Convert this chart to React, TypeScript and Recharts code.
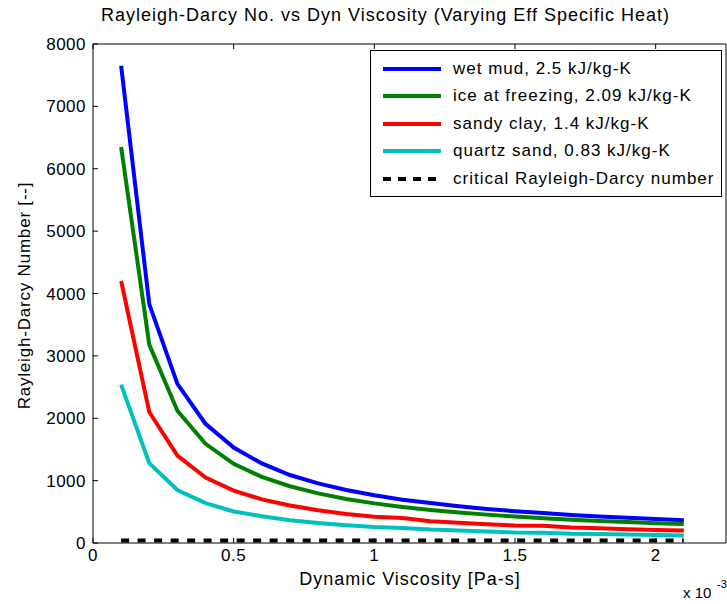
import React from "react";
import { LineChart, Line, XAxis, YAxis } from "recharts";

// dynamic viscosity, x 10^-3 Pa-s
const viscosity = [0.1, 0.2, 0.3, 0.4, 0.5, 0.6, 0.7, 0.8, 0.9, 1.0, 1.1, 1.2, 1.3, 1.4, 1.5, 1.6, 1.7, 1.8, 1.9, 2.0, 2.1];
const wetMud = [7650, 3830, 2550, 1910, 1530, 1275, 1090, 955, 850, 765, 695, 640, 590, 545, 510, 480, 450, 425, 405, 385, 365];
const iceFreezing = [6350, 3180, 2120, 1590, 1270, 1060, 910, 795, 705, 635, 578, 530, 490, 455, 425, 398, 374, 353, 335, 318, 303];
const sandyClay = [4200, 2100, 1400, 1050, 840, 700, 600, 525, 465, 420, 400, 350, 325, 300, 280, 275, 250, 235, 220, 210, 200];
const quartzSand = [2540, 1280, 850, 640, 505, 430, 365, 320, 285, 255, 240, 215, 200, 185, 170, 165, 150, 145, 135, 130, 120];
const criticalRD = [40, 40, 40, 40, 40, 40, 40, 40, 40, 40, 40, 40, 40, 40, 40, 40, 40, 40, 40, 40, 40];

const xTicks = [0, 0.5, 1, 1.5, 2];
const yTicks = [0, 1000, 2000, 3000, 4000, 5000, 6000, 7000, 8000];

const series = [
  { key: "wet", name: "wet mud, 2.5 kJ/kg-K", color: "#0000ff", values: wetMud, dash: undefined },
  { key: "ice", name: "ice at freezing, 2.09 kJ/kg-K", color: "#008000", values: iceFreezing, dash: undefined },
  { key: "clay", name: "sandy clay, 1.4 kJ/kg-K", color: "#ff0000", values: sandyClay, dash: undefined },
  { key: "quartz", name: "quartz sand, 0.83 kJ/kg-K", color: "#00bfbf", values: quartzSand, dash: undefined },
  { key: "crit", name: "critical Rayleigh-Darcy number", color: "#000000", values: criticalRD, dash: "8 8.5" },
];

const data = viscosity.map((v, i) => {
  const row: any = { x: v };
  series.forEach((s) => (row[s.key] = s.values[i]));
  return row;
});

const font = "'Liberation Sans', Arial, sans-serif";

const LegendBox = () => (
  <div
    style={{
      position: "absolute",
      left: 370,
      top: 50,
      width: 352,
      height: 147,
      border: "1px solid #000",
      background: "#fff",
      boxSizing: "border-box",
      paddingTop: 4,
      fontFamily: font,
      fontSize: 17,
      letterSpacing: 1,
    }}
  >
    {series.map((s) => (
      <div key={s.key} style={{ display: "flex", alignItems: "center", height: 27.5 }}>
        <svg width={70} height={10} style={{ marginLeft: 10, flexShrink: 0 }}>
          <line
            x1={2}
            x2={60}
            y1={5}
            y2={5}
            stroke={s.color}
            strokeWidth={4}
            strokeDasharray={s.dash ? "8 7" : undefined}
          />
        </svg>
        <span style={{ marginLeft: 2, whiteSpace: "nowrap" }}>{s.name}</span>
      </div>
    ))}
  </div>
);

export default function App() {
  return (
    <div style={{ position: "absolute", left: 0, top: 0, width: 727, height: 604, background: "#fff" }}>
      <div
        style={{
          position: "absolute",
          top: 5,
          left: 0,
          width: 727,
          paddingLeft: 44,
          textAlign: "center",
          fontFamily: font,
          fontSize: 18,
          letterSpacing: 1,
          boxSizing: "border-box",
          whiteSpace: "nowrap",
        }}
      >
        Rayleigh-Darcy No. vs Dyn Viscosity (Varying Eff Specific Heat)
      </div>
      <LineChart
        width={727}
        height={604}
        data={data}
        margin={{ top: 43, right: 0, left: 0, bottom: 0 }}
        style={{ fontFamily: font, position: "absolute", left: 0, top: 0 }}
      >
        <XAxis
          dataKey="x"
          type="number"
          domain={[0, 2.25]}
          ticks={xTicks}
          allowDataOverflow
          height={61}
          stroke="#000"
          tickSize={-5}
          tickMargin={11}
          tick={{ fill: "#000", fontSize: 17, letterSpacing: 0.5 }}
          label={(props: any) => {
            const vb = props.viewBox;
            return (
              <g style={{ fontFamily: font }}>
                <text
                  x={vb.x + 317}
                  y={vb.y + 42}
                  textAnchor="middle"
                  fontSize={18}
                  letterSpacing={1}
                  fill="#000"
                >
                  Dynamic Viscosity [Pa-s]
                </text>
                <text x={683} y={598} fontSize={15} fill="#000">
                  x 10
                </text>
                <text x={717} y={588} fontSize={11} fill="#000">
                  -3
                </text>
              </g>
            );
          }}
        />
        <XAxis
          xAxisId="top"
          dataKey="x"
          type="number"
          orientation="top"
          domain={[0, 2.25]}
          ticks={xTicks}
          allowDataOverflow
          height={1}
          stroke="#000"
          tickSize={-5}
          tickFormatter={() => ""}
        />
        <YAxis
          type="number"
          domain={[0, 8000]}
          ticks={yTicks}
          width={93}
          stroke="#000"
          tickSize={-5}
          tickMargin={12}
          tick={{ fill: "#000", fontSize: 17, letterSpacing: 0.5 }}
          label={{
            value: "Rayleigh-Darcy Number [--]",
            angle: -90,
            position: "insideLeft",
            dx: 19,
            dy: 2,
            fill: "#000",
            fontSize: 17,
            letterSpacing: 0.8,
            style: { textAnchor: "middle" },
          }}
        />
        <YAxis
          yAxisId="right"
          orientation="right"
          type="number"
          domain={[0, 8000]}
          ticks={yTicks}
          width={1}
          stroke="#000"
          tickSize={-5}
          tickFormatter={() => ""}
        />
        {series.map((s) => (
          <Line
            key={s.key}
            dataKey={s.key}
            name={s.name}
            stroke={s.color}
            strokeWidth={4}
            strokeDasharray={s.dash}
            dot={false}
            activeDot={false}
            type="linear"
            isAnimationActive={false}
          />
        ))}
      </LineChart>
      <LegendBox />
    </div>
  );
}
